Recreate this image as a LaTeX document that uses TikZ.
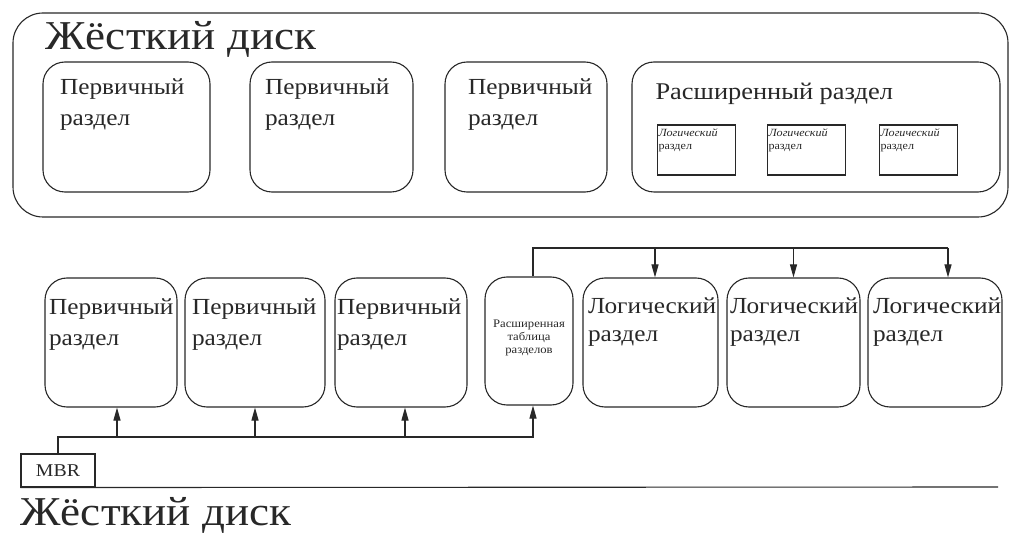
\documentclass[tikz,border=0pt]{standalone}
\usepackage{fontspec}
\setmainfont{Liberation Serif}[FakeStretch=1.1]
\usetikzlibrary{arrows.meta}
\definecolor{ink}{RGB}{40,40,40}
\begin{document}
\begin{tikzpicture}[x=1pt,y=-1pt,line width=1.1pt,draw=ink,
  rbox/.style={draw=ink,rounded corners=22pt,inner sep=0pt,minimum height=130pt},
  sbox/.style={draw=ink,inner sep=0pt,minimum width=78pt,minimum height=50pt},
  ptxt/.style={anchor=north west,inner sep=0pt,align=left,text=ink,font=\fontsize{23}{31}\selectfont},
  stxt/.style={anchor=north west,inner sep=0pt,align=left,text=ink,font=\fontsize{11}{13}\selectfont},
  ttl/.style={anchor=base west,inner sep=0pt,text=ink,font=\fontsize{41}{41}\selectfont},
  arr/.style={-{Triangle[length=13pt,width=7pt]}}]
\path[use as bounding box,fill=white] (0,0) rectangle (1012,545);

% ---------- upper picture ----------
\node[rbox,rounded corners=30pt,minimum width=995pt,minimum height=204pt] (disk) at (510.5,115) {};
\node[ttl] (title1) at (45,50) {Жёсткий диск};

\node[rbox,minimum width=167pt] (tp1) at (126.5,127) {};
\node[ptxt] (tp1t) at ([xshift=17pt,yshift=-17pt]tp1.north west) {Первичный\\раздел};
\node[rbox,minimum width=163pt] (tp2) at (331.5,127) {};
\node[ptxt] (tp2t) at ([xshift=15pt,yshift=-17pt]tp2.north west) {Первичный\\раздел};
\node[rbox,minimum width=162pt] (tp3) at (526,127) {};
\node[ptxt] (tp3t) at ([xshift=23pt,yshift=-17pt]tp3.north west) {Первичный\\раздел};
\node[rbox,minimum width=368pt] (ext) at (816,127) {};
\node[anchor=base west,inner sep=0pt,text=ink,font=\fontsize{24}{24}\selectfont] (extt) at (655,100) {Расширенный раздел};

\node[sbox] (la) at (696.5,150) {};
\node[stxt] (lat) at ([xshift=1pt,yshift=-4pt]la.north west) {\textit{Логический}\\раздел};
\node[sbox] (lb) at (806.5,150) {};
\node[stxt] (lbt) at ([xshift=1pt,yshift=-4pt]lb.north west) {\textit{Логический}\\раздел};
\node[sbox] (lc) at (918.5,150) {};
\node[stxt] (lct) at ([xshift=1pt,yshift=-4pt]lc.north west) {\textit{Логический}\\раздел};

% ---------- lower picture ----------
\node[rbox,minimum width=132pt,minimum height=129pt] (bp1) at (111,342.5) {};
\node[ptxt] (bp1t) at ([xshift=4pt,yshift=-21pt]bp1.north west) {Первичный\\раздел};
\node[rbox,minimum width=140pt,minimum height=129pt] (bp2) at (255,342.5) {};
\node[ptxt] (bp2t) at ([xshift=7pt,yshift=-21pt]bp2.north west) {Первичный\\раздел};
\node[rbox,minimum width=132pt,minimum height=129pt] (bp3) at (401,342.5) {};
\node[ptxt] (bp3t) at ([xshift=2pt,yshift=-21pt]bp3.north west) {Первичный\\раздел};

\node[rbox,minimum width=88pt,minimum height=128pt] (tbl) at (529,341) {};
\node[inner sep=0pt,align=center,text=ink,font=\fontsize{11.5}{13}\selectfont] (tblt) at (529,338) {Расширенная\\таблица\\разделов};

\node[rbox,minimum width=135pt,minimum height=129pt] (bl1) at (650.5,342.5) {};
\node[ptxt,font=\fontsize{23}{28}\selectfont] (bl1t) at ([xshift=5pt,yshift=-20pt]bl1.north west) {Логический\\раздел};
\node[rbox,minimum width=133pt,minimum height=129pt] (bl2) at (793.5,342.5) {};
\node[ptxt,font=\fontsize{23}{28}\selectfont] (bl2t) at ([xshift=3pt,yshift=-20pt]bl2.north west) {Логический\\раздел};
\node[rbox,minimum width=134pt,minimum height=129pt] (bl3) at (935,342.5) {};
\node[ptxt,font=\fontsize{23}{28}\selectfont] (bl3t) at ([xshift=5pt,yshift=-20pt]bl3.north west) {Логический\\раздел};

\node[draw=ink,inner sep=0pt,minimum width=74pt,minimum height=33pt,text=ink,font=\fontsize{18}{18}\selectfont] (mbr) at (58,470.5) {MBR};
\coordinate (diskend) at (998,487);
\draw (mbr.south west) -- (diskend);
\node[ttl] (title2) at (20,525) {Жёсткий диск};

% lower bus from MBR
\coordinate (bus) at (533,437);
\coordinate (a1) at ([xshift=6pt]bp1.south);
\coordinate (a2) at (bp2.south);
\coordinate (a3) at ([xshift=4pt]bp3.south);
\coordinate (a4) at ([xshift=4pt]tbl.south);
\draw[arr] (mbr.north) |- (bus) -- (a4);
\draw[arr] (a1 |- bus) -- (a1);
\draw[arr] (a2 |- bus) -- (a2);
\draw[arr] (a3 |- bus) -- (a3);

% upper bus from extended table
\coordinate (tbus) at (533,248);
\coordinate (b0) at ([xshift=4pt]tbl.north);
\coordinate (b1) at ([xshift=4.5pt]bl1.north);
\coordinate (b2) at (bl2.north);
\coordinate (b3) at ([xshift=13pt]bl3.north);
\draw (b0) -- (tbus) -- (b3 |- tbus);
\draw[arr] (b1 |- tbus) -- (b1);
\draw[arr] (b2 |- tbus) -- (b2);
\draw[arr] (b3 |- tbus) -- (b3);
\end{tikzpicture}
\end{document}
